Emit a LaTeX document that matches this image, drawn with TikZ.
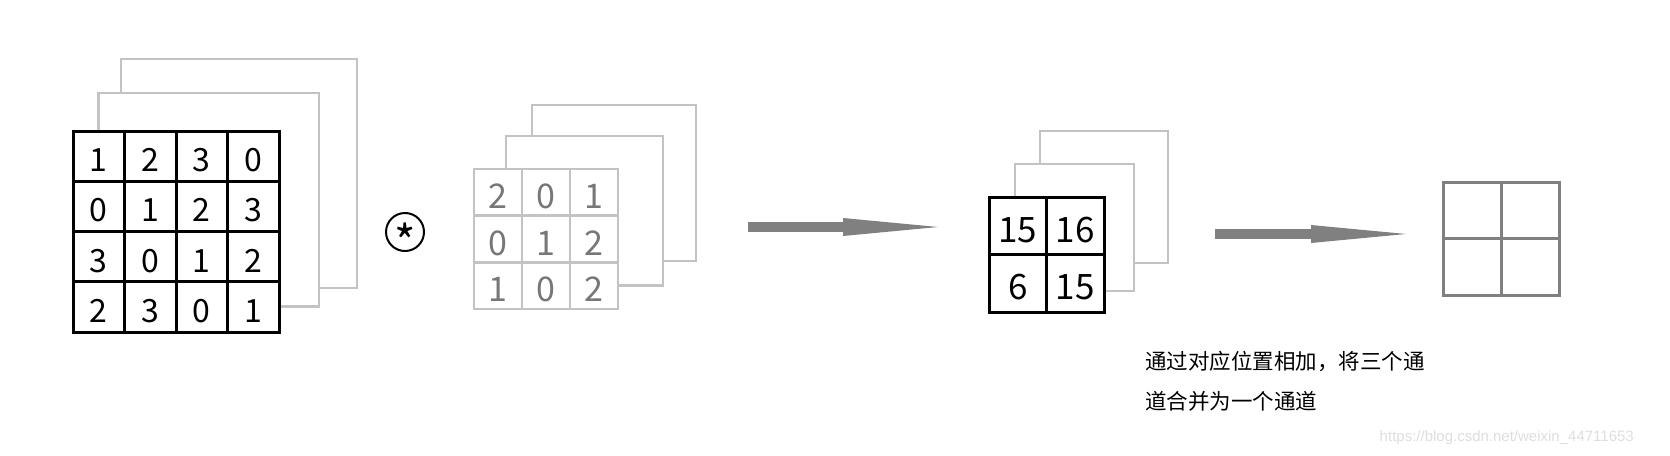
\documentclass[tikz,border=0pt]{standalone}
\usepackage{fontspec}
\setmainfont{Noto Sans CJK SC}
\newfontfamily\urlfont{Liberation Sans}
\usepackage{tikz}
\usetikzlibrary{arrows.meta, positioning, backgrounds}
\definecolor{layergray}{HTML}{C3C3C3}
\definecolor{kerngray}{HTML}{777777}
\definecolor{arrowgray}{HTML}{808080}
\tikzset{
  incell/.style={rectangle, draw=black, line width=3pt, inner sep=0pt, minimum width=51.5pt, minimum height=50.25pt, text height=31pt, text depth=0pt, font=\fontsize{32}{32}\selectfont},
  kcell/.style={rectangle, draw=layergray, line width=2.8pt, inner sep=0pt, minimum width=48pt, minimum height=46.67pt, text height=32pt, text depth=0pt, text=kerngray, font=\fontsize{34}{34}\selectfont},
  rcell/.style={rectangle, draw=black, line width=3pt, inner sep=0pt, minimum width=57.5pt, minimum height=57.5pt, text height=33pt, text depth=0pt, font=\fontsize{35}{35}\selectfont},
  ocell/.style={rectangle, draw=arrowgray, line width=3pt, inner sep=0pt, minimum width=58pt, minimum height=56.5pt},
  layer/.style={draw=layergray, line width=2.8pt},
  opcircle/.style={circle, draw=black, line width=2pt, minimum size=38pt, inner sep=0pt, text height=0pt, text depth=0pt, font=\fontsize{46}{46}\selectfont},
  bigarrow/.style={draw=arrowgray, line width=10pt, -{Triangle[length=95pt, width=18pt, line width=0pt]}},
  note/.style={inner sep=0pt, font=\fontsize{21.5}{21.5}\selectfont},
  wmark/.style={inner sep=0pt, text=black!13, font=\urlfont\fontsize{15}{15}\selectfont}
}

\begin{document}
\begin{tikzpicture}[x=1pt, y=-1pt]
\useasboundingbox (0,0) rectangle (1670,455);

% Input - 4x4, three channels
\foreach \row [count=\i] in {{1,2,3,0},{0,1,2,3},{3,0,1,2},{2,3,0,1}}
  \foreach \v [count=\j] in \row
    \node[incell] (in-\i-\j) at ({73+(\j-0.5)*51.5}, {131+(\i-0.5)*50.25}) {\v};

% Convolution sign
\node[opcircle] (conv) at (405,232) {\raisebox{-0.6em}{*}};

% Kernel - 3x3
\foreach \row [count=\i] in {{2,0,1},{0,1,2},{1,0,2}}
  \foreach \v [count=\j] in \row
    \node[kcell] (k-\i-\j) at ({474+(\j-0.5)*48}, {169+(\i-0.5)*46.67}) {\v};

% Result - 2x2, three channels
\foreach \row [count=\i] in {{15,16},{6,15}}
  \foreach \v [count=\j] in \row
    \node[rcell] (r-\i-\j) at ({989+(\j-0.5)*57.5}, {197+(\i-0.5)*57.5}) {\v};

% Output - one channel
\foreach \i in {1,2}
  \foreach \j in {1,2}
    \node[ocell] (o-\i-\j) at ({1443+(\j-0.5)*58}, {182+(\i-0.5)*56.5}) {};

% Channels behind
\begin{scope}[on background layer]
\draw[layer] (in-1-1.north) |- (319,93) |- (in-4-4.east);
\draw[layer] (121,93) |- (357,59) |- (319,288);
\draw[layer] (506,169) |- (663,136) |- (k-3-3.east);
\draw[layer] (532,136) |- (696,105) |- (663,261);
\draw[layer] (1015,197) |- (1134,164) |- (1104,291);
\draw[layer] (1040,164) |- (1168,131) |- (1134,263);
\end{scope}

% Arrows
\coordinate (a1-from) at (748,227);
\coordinate (a1-to) at (938,227);
\coordinate (a2-from) at (1215,234);
\coordinate (a2-to) at (1406,234);
\draw[bigarrow] (a1-from) -- (a1-to);
\draw[bigarrow] (a2-from) -- (a2-to);

% Note
\node[note, anchor=base west] (note1) at (1145,369) {通过对应位置相加，将三个通};
\node[note, anchor=base west] (note2) at (1145,409) {道合并为一个通道};
\node[wmark, anchor=base east] (url) at (1634,441) {https://blog.csdn.net/weixin\_44711653};
\end{tikzpicture}
\end{document}
